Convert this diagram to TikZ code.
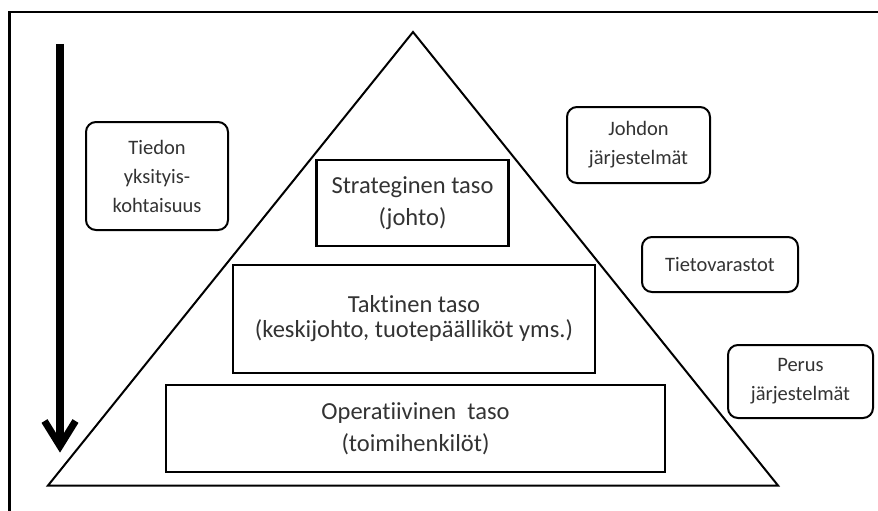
\documentclass[tikz,border=0pt]{standalone}
\usepackage{fontspec}
\setmainfont{Carlito}[Ligatures=NoCommon]
\begin{document}
\begin{tikzpicture}[x=1pt,y=-1pt,
  level/.style={draw,line width=2.4pt,inner sep=0pt,align=center,font=\fontsize{24.5}{32}\selectfont,text=black!80},
  side/.style={draw,line width=2pt,rounded corners=10pt,inner sep=0pt,align=center,font=\fontsize{20.5}{29}\selectfont,text=black!80},
  edge/.style={line width=2pt,line join=miter}]
\useasboundingbox[fill=white] (0,0) rectangle (878,511);

% frame corner
\coordinate (fb) at (9.5,511);
\coordinate (fc) at (9.5,12);
\coordinate (fr) at (878,12);
\draw[line width=2.2pt] (fb) -- (fc) -- (fr);

% pyramid
\coordinate (apex) at (413,32);
\coordinate (bl) at (48,485.5);
\coordinate (br) at (778,485.5);
\draw[edge] (apex) -- (br) -- (bl) -- cycle;

% levels
\node[level,minimum width=192pt,minimum height=86pt] (strat) at (412.5,203) {Strateginen taso\\(johto)};
\node[level,minimum width=362pt,minimum height=108pt] (takt) at (414,319) {Taktinen taso\\[-7pt](keskijohto, tuotepäälliköt yms.)};
\node[level,minimum width=499pt,minimum height=87pt] (oper) at (415.5,428.5) {Operatiivinen \ taso\\(toimihenkilöt)};

% side labels
\node[side,minimum width=142pt,minimum height=108pt] (detail) at (157,176) {Tiedon\\yksityis-\\kohtaisuus};
\node[side,minimum width=143pt,minimum height=76pt] (mgmt) at (638.5,145) {Johdon\\järjestelmät};
\node[side,minimum width=156pt,minimum height=55pt] (dw) at (720,264.5) {Tietovarastot};
\node[side,minimum width=145pt,minimum height=73pt] (base) at (800.5,381.5) {Perus\\järjestelmät};

% downward arrow
\coordinate (atop) at (60,44);
\coordinate (atip) at (60,446);
\coordinate (al) at (44.5,421);
\coordinate (ar) at (75.5,421);
\draw[line width=7.5pt] (atop) -- (atip);
\draw[line width=7pt,line join=miter] (al) -- (atip) -- (ar);
\end{tikzpicture}
\end{document}
